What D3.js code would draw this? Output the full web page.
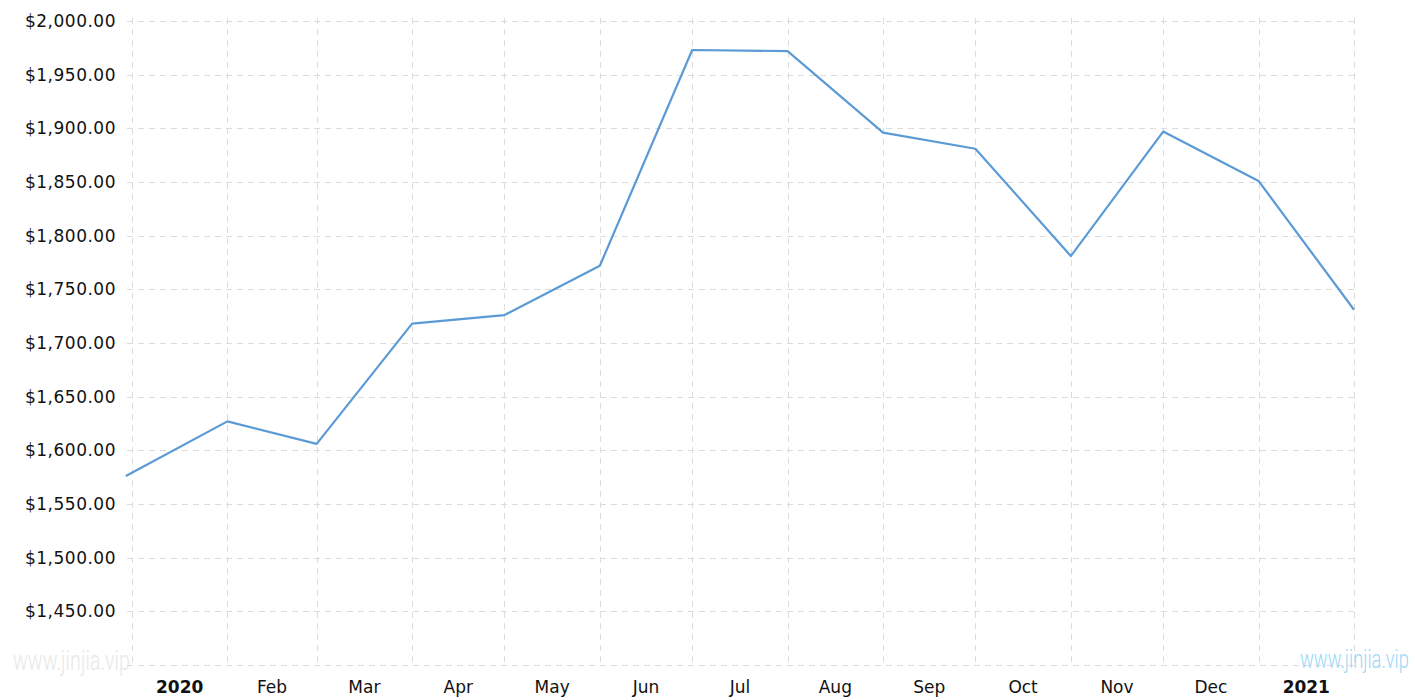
<!DOCTYPE html>
<html>
<head>
<meta charset="utf-8">
<script src="https://cdn.jsdelivr.net/npm/d3@7"></script>
<style>
  html, body { margin: 0; padding: 0; background: #fff; }
  svg { display: block; font-family: "DejaVu Sans", Verdana, sans-serif; }
</style>
</head>
<body>
<div id="chart"></div>
<script>
// monthly gold price (USD / oz), sampled at month starts
const dates = [
  "2019-12-30", "2020-02-01", "2020-03-01", "2020-04-01", "2020-05-01",
  "2020-06-01", "2020-07-01", "2020-08-01", "2020-09-01", "2020-10-01",
  "2020-11-01", "2020-12-01", "2021-01-01", "2021-02-01"
];
const prices = [
  1576, 1627, 1606, 1718, 1726, 1772, 1973, 1972, 1896, 1881, 1781, 1897, 1851, 1731
];
const monthLabels = ["2020", "Feb", "Mar", "Apr", "May", "Jun", "Jul", "Aug",
  "Sep", "Oct", "Nov", "Dec", "2021"];
const yTicks = [1450, 1500, 1550, 1600, 1650, 1700, 1750, 1800, 1850, 1900, 1950, 2000];

const width = 1415, height = 700;
const parse = d3.timeParse("%Y-%m-%d");
const data = dates.map((d, i) => ({ date: parse(d), value: prices[i] }));

const svg = d3.select("#chart").append("svg")
  .attr("width", width)
  .attr("height", height);

const x = d3.scaleTime()
  .domain([new Date(2020, 0, 1), new Date(2021, 1, 1)])
  .range([132, 1354]);

const y = d3.scaleLinear()
  .domain([1400, 2000])
  .range([665, 21]);

const grid = svg.append("g")
  .attr("stroke", "#dcdcdc")
  .attr("stroke-width", 1)
  .attr("stroke-dasharray", "6,5");

// horizontal grid lines
grid.selectAll(".hgrid")
  .data([1400].concat(yTicks))
  .enter()
  .append("line")
  .attr("x1", 127)
  .attr("x2", 1354)
  .attr("y1", (d) => Math.round(y(d)) + 0.5)
  .attr("y2", (d) => Math.round(y(d)) + 0.5);

// vertical grid lines at month starts
const monthStarts = d3.timeMonth.range(new Date(2020, 0, 1), new Date(2021, 1, 2));
grid.selectAll(".vgrid")
  .data(monthStarts)
  .enter()
  .append("line")
  .attr("x1", (d) => Math.round(x(d)) + 0.5)
  .attr("x2", (d) => Math.round(x(d)) + 0.5)
  .attr("y1", 18)
  .attr("y2", 666);

// y axis labels
svg.append("g")
  .selectAll("text")
  .data(yTicks)
  .enter()
  .append("text")
  .attr("x", 116)
  .attr("y", (d) => y(d))
  .attr("dy", "0.36em")
  .attr("text-anchor", "end")
  .style("font-size", "17px")
  .style("letter-spacing", "0.5px")
  .style("fill", "#111")
  .text((d) => d3.format("$,.2f")(d));

// x axis labels centred in each month
const labelMonths = d3.timeMonth.range(new Date(2020, 0, 1), new Date(2021, 1, 1));
svg.append("g")
  .selectAll("text")
  .data(labelMonths)
  .enter()
  .append("text")
  .attr("x", (d) => (x(d) + x(d3.timeMonth.offset(d, 1))) / 2)
  .attr("y", 693)
  .attr("text-anchor", "middle")
  .style("font-size", "17px")
  .style("font-weight", (d, i) => (d.getMonth() === 0 ? "bold" : "normal"))
  .style("fill", "#111")
  .text((d, i) => monthLabels[i]);

// watermarks, squeezed horizontally to look condensed
function watermark(left, baseline, w, size, color) {
  const t = svg.append("text")
    .style("font-family", "Roboto, sans-serif")
    .style("font-weight", 300)
    .style("font-size", size + "px")
    .style("fill", color)
    .text("www.jinjia.vip");
  const natural = t.node().getComputedTextLength();
  t.attr("transform", `translate(${left},${baseline}) scale(${w / natural},1)`);
}
watermark(13, 670, 117, 27, "#e8e8e8");
watermark(1300, 668, 109, 25, "#9ad8f7");

// price line
const line = d3.line()
  .x((d) => x(d.date))
  .y((d) => y(d.value));

svg.append("path")
  .datum(data)
  .attr("fill", "none")
  .attr("stroke", "#5b9bd5")
  .attr("stroke-width", 2.2)
  .attr("stroke-linejoin", "round")
  .attr("d", line);
</script>
</body>
</html>
